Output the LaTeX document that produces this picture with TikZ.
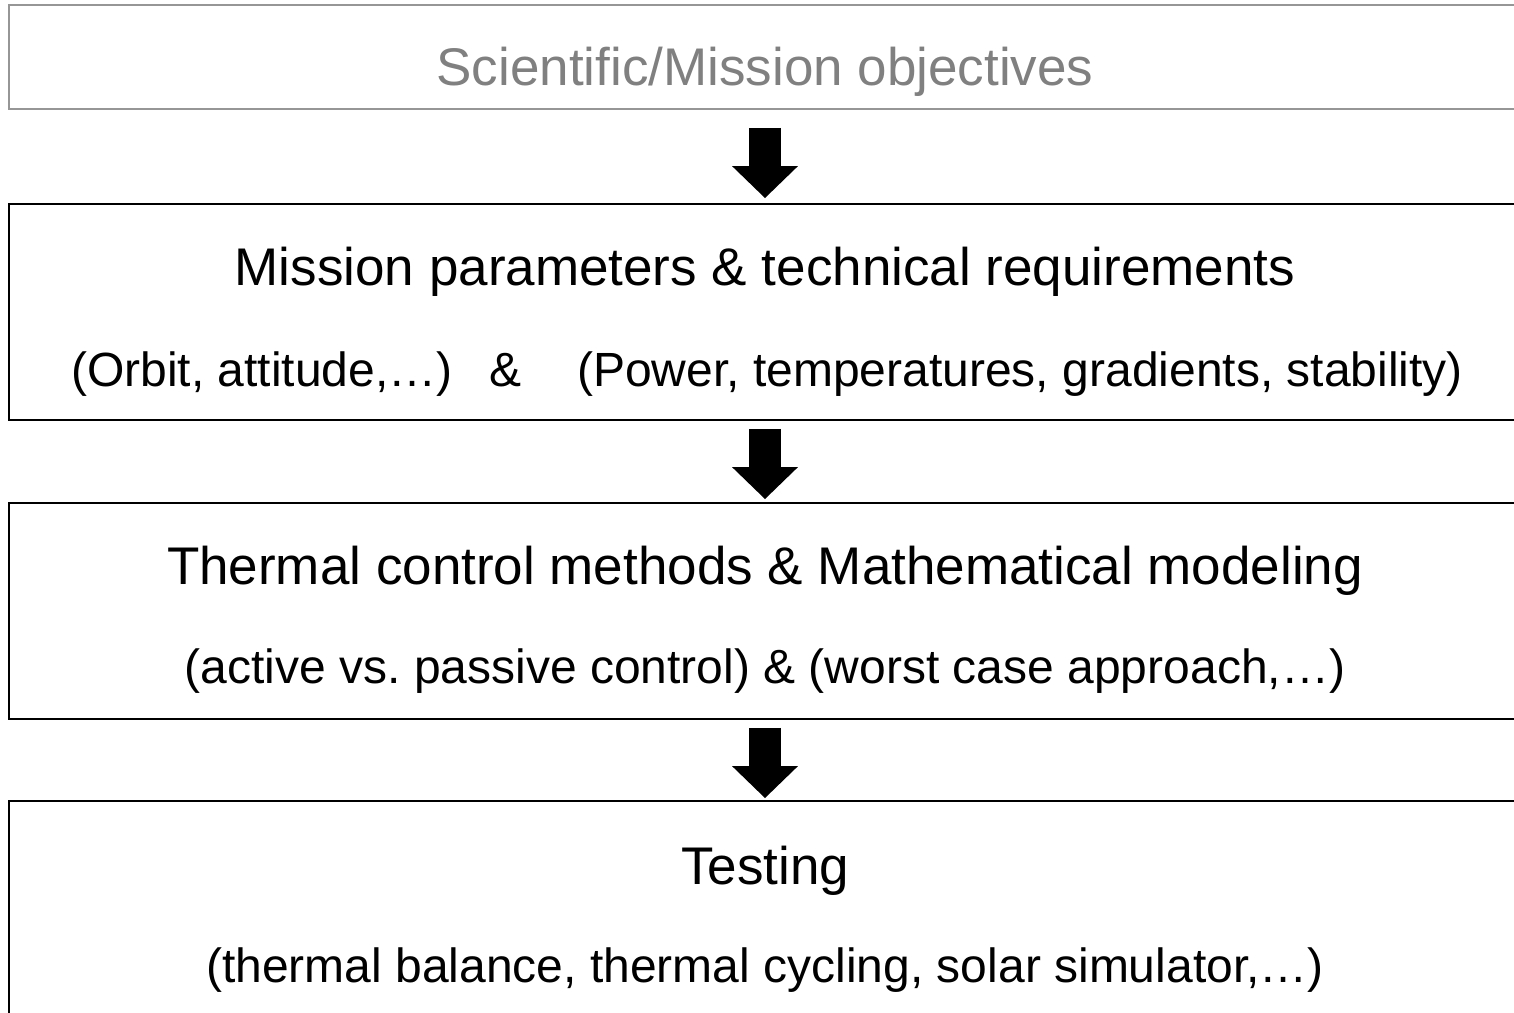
\documentclass[tikz,border=0pt]{standalone}
\usepackage{fontspec}
\setmainfont{Liberation Sans}
\usetikzlibrary{arrows.meta,positioning}
\definecolor{titlegray}{RGB}{128,128,128}
\definecolor{framegray}{RGB}{150,150,150}
\tikzset{
  panel/.style={draw, line width=1.8pt, minimum width=1512pt, minimum height=216pt, inner sep=0pt},
  head/.style={anchor=base, inner sep=0pt, font=\fontsize{53}{60}\selectfont},
  sub/.style={anchor=base, inner sep=0pt, font=\fontsize{48}{56}\selectfont},
  flow/.style={line width=32pt, -{Triangle[width=64pt,length=32pt]}}
}
\begin{document}
\begin{tikzpicture}[x=1pt,y=-1pt]
    \useasboundingbox (0,0) rectangle (1514,1012);
    \node[panel, draw=framegray, minimum height=104pt] (obj) at (765,57) {};
    \node[panel] (req) at (765,312) {};
    \node[panel] (ctl) at (765,611) {};
    \node[panel] (tst) at (765,909) {};
    \node[head, text=titlegray] (objt) at ([yshift=-81pt]obj.north) {Scientific/Mission objectives};
    \node[head] (reqt) at ([yshift=-82pt]req.north) {Mission parameters \& technical requirements};
    \node[sub, anchor=base west] (orb) at (71,386) {(Orbit, attitude,…)};
    \node[sub, anchor=base west] (amp) at (489,386) {\&};
    \node[sub, anchor=base west] (pow) at (577,386) {(Power, temperatures, gradients, stability)};
    \node[head] (ctlt) at ([yshift=-82pt]ctl.north) {Thermal control methods \& Mathematical modeling};
    \node[sub] (ctls) at ([yshift=-181pt]ctl.north) {(active vs.\ passive control) \& (worst case approach,…)};
    \node[head] (tstt) at ([yshift=-84pt]tst.north) {Testing};
    \node[sub] (tsts) at ([yshift=-182pt]tst.north) {(thermal balance, thermal cycling, solar simulator,…)};
    \draw[flow] ([yshift=-18pt]obj.south) -- ([yshift=5pt]req.north);
    \draw[flow] ([yshift=-8pt]req.south) -- ([yshift=3pt]ctl.north);
    \draw[flow] ([yshift=-8pt]ctl.south) -- ([yshift=2pt]tst.north);
\end{tikzpicture}
\end{document}
